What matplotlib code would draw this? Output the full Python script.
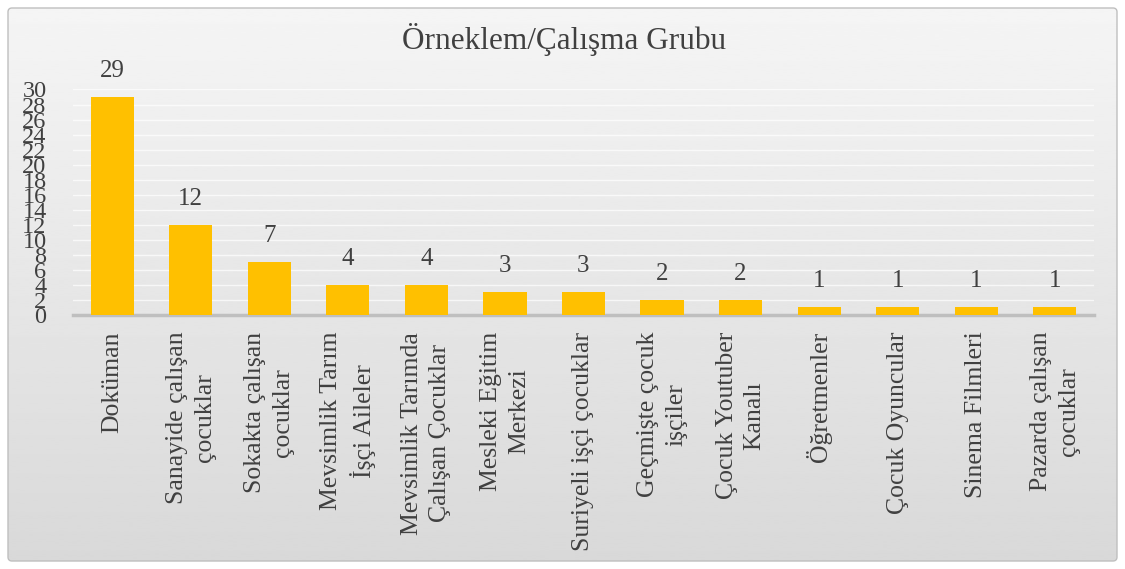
import numpy as np
import matplotlib.pyplot as plt
from matplotlib.patches import FancyBboxPatch

# datos
kategoriler = ['Doküman', 'Sanayide çalışan\nçocuklar', 'Sokakta çalışan\nçocuklar',
               'Mevsimlik Tarım\nİşçi Aileler', 'Mevsimlik Tarımda\nÇalışan Çocuklar',
               'Mesleki Eğitim\nMerkezi', 'Suriyeli işçi çocuklar', 'Geçmişte çocuk\nişçiler',
               'Çocuk Youtuber\nKanalı', 'Öğretmenler', 'Çocuk Oyuncular',
               'Sinema Filmleri', 'Pazarda çalışan\nçocuklar']
degerler = [29, 12, 7, 4, 4, 3, 3, 2, 2, 1, 1, 1, 1]
y_ticks = list(range(0, 31, 2))

plt.rcParams['font.family'] = ['Liberation Serif', 'DejaVu Serif']
txt = '#404040'

fig = plt.figure(figsize=(11.25, 5.69), dpi=100)

# fondo con degradado y borde redondeado
bg = fig.add_axes([0, 0, 1, 1], zorder=-5)
bg.set_xlim(0, 1125)
bg.set_ylim(0, 569)
bg.axis('off')
grad = np.linspace(0.85, 0.96, 256).reshape(-1, 1)
im = bg.imshow(grad, cmap='gray', vmin=0, vmax=1, extent=[8, 1117, 8, 561],
               aspect='auto', origin='lower')
box = FancyBboxPatch((8, 8), 1109, 553, boxstyle='round,pad=0,rounding_size=4',
                     facecolor='none', edgecolor='#bfbfbf', lw=1)
bg.add_patch(box)
im.set_clip_path(box)

ax = fig.add_axes([73 / 1125, 1 - 315 / 569, (1094 - 73) / 1125, (315 - 89.5) / 569])
ax.set_facecolor('none')
x = np.arange(len(kategoriler))
barras = ax.bar(x, degerler, width=0.55, color='#FFC000', zorder=3)
ax.bar_label(barras, labels=[str(v) for v in degerler], padding=11,
             fontsize=18, color=txt)

ax.set_xlim(-0.5, len(kategoriler) - 0.5)
ax.set_ylim(0, 30)
ax.set_yticks(y_ticks)
ax.set_yticklabels([str(t) for t in y_ticks], fontsize=17.5, color=txt)
ax.set_xticks(x)
ax.set_xticklabels(kategoriler, rotation=90, fontsize=18.5, color=txt,
                   ha='center', va='top', multialignment='center', linespacing=1.35)
ax.tick_params(axis='both', length=0)
ax.tick_params(axis='y', pad=19)
ax.tick_params(axis='x', pad=12)
ax.grid(axis='y', color='white', alpha=0.7, lw=1, zorder=0)
for s in ['top', 'right', 'left']:
    ax.spines[s].set_visible(False)
ax.spines['bottom'].set_color('#bfbfbf')
ax.spines['bottom'].set_linewidth(2.5)

fig.text(564 / 1125, 1 - 40 / 569, 'Örneklem/Çalışma Grubu', ha='center', va='center',
         fontsize=22.5, color=txt)

fig.savefig('out.png', dpi=100)
